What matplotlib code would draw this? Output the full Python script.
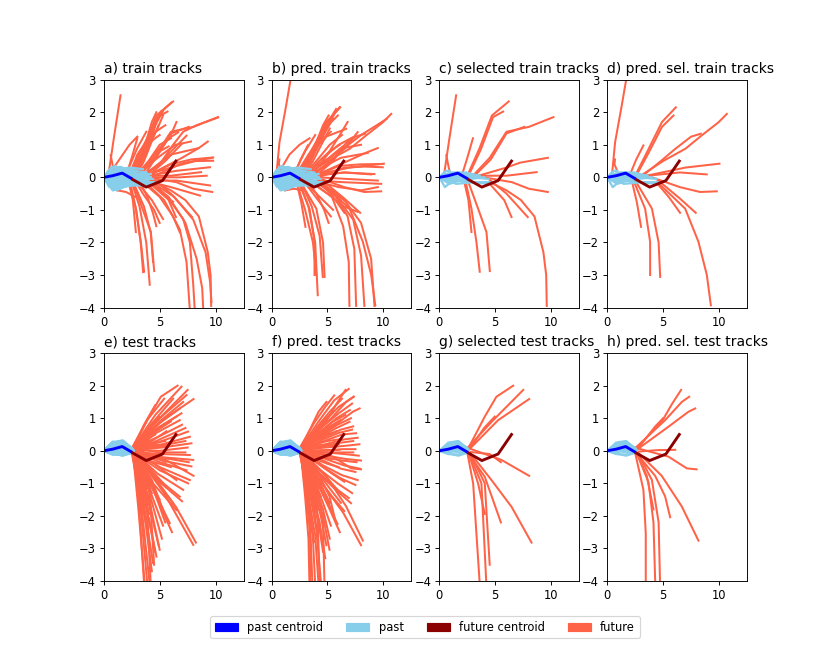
import matplotlib
matplotlib.use("Agg")
import matplotlib.pyplot as plt
import matplotlib.patches as mpatches

# centroids, same in every panel
past_centroid = [(0.0, 0.0), (0.8, 0.05), (1.65, 0.13), (2.45, -0.03)]
future_centroid = [(2.6, -0.07), (3.8, -0.3), (5.25, -0.1), (6.45, 0.5)]

# train tracks: observed past, true future, predicted future (future starts at end of past)
train_past = [
    [(0, 0), (0.2, 0.05), (0.45, 0.15)],
    [(0, 0), (0.6, 0.1), (1.3, 0.05), (2.0, 0.05)],
    [(0, 0), (0.8, 0.12), (1.7, 0.1), (2.5, 0.05)],
    [(0, 0), (0.9, 0.05), (1.8, 0.0), (2.6, 0.05)],
    [(0, 0), (1.0, 0.15), (2.0, 0.15), (3.0, 0.05)],
    [(0, 0), (1.0, -0.05), (2.0, -0.1), (3.0, 0.0)],
    [(0, 0), (1.2, 0.1), (2.4, 0.15), (3.5, 0.05)],
    [(0, 0), (1.2, 0.0), (2.4, 0.05), (3.6, 0.05)],
    [(0, 0), (1.3, -0.1), (2.7, -0.05), (4.0, 0.0)],
    [(0, 0), (1.5, 0.05), (3.0, 0.0), (4.4, -0.05)],
    [(0, 0), (1.5, -0.1), (3.0, -0.15), (4.5, -0.2)],
    [(0, 0), (1.5, -0.2), (3.0, -0.15), (4.5, -0.15)],
    [(0, 0), (0.5, -0.3), (1.2, -0.1), (2.3, -0.05)],
    [(0, 0), (0.9, -0.2), (1.8, -0.1), (2.6, -0.15)],
    [(0, 0), (0.7, -0.15), (1.5, -0.05), (2.2, -0.1)],
    [(0, 0), (0.3, 0.1), (0.6, 0.2), (0.9, 0.2)],
    [(0, 0), (0.9, 0.2), (1.8, 0.2), (2.6, 0.1)],
    [(0, 0), (0.8, 0.3), (1.6, 0.25), (2.5, 0.15)],
    [(0, 0), (0.9, 0.1), (1.9, 0.05), (2.8, 0.0)],
    [(0, 0), (0.7, 0.3), (1.5, 0.32), (2.4, 0.2)],
    [(0, 0), (1.1, 0.1), (2.3, 0.05), (3.4, 0.0)],
    [(0, 0), (1.2, 0.15), (2.4, 0.1), (3.6, 0.05)],
    [(0, 0), (1.0, 0.2), (2.1, 0.15), (3.2, 0.1)],
    [(0, 0), (1.3, 0.1), (2.6, 0.05), (3.8, 0.0)],
    [(0, 0), (1.3, 0.05), (2.7, 0.1), (4.0, 0.05)],
    [(0, 0), (1.4, 0.0), (2.8, 0.05), (4.2, 0.0)],
    [(0, 0), (1.3, -0.05), (2.7, 0.0), (4.0, 0.05)],
    [(0, 0), (1.4, -0.1), (2.8, -0.05), (4.2, 0.0)],
    [(0, 0), (1.3, -0.15), (2.7, -0.1), (4.0, -0.1)],
    [(0, 0), (1.2, -0.1), (2.5, -0.1), (3.7, -0.1)],
    [(0, 0), (1.4, -0.2), (2.9, -0.15), (4.3, -0.15)],
    [(0, 0), (1.4, -0.25), (2.8, -0.2), (4.2, -0.2)],
    [(0, 0), (1.3, -0.3), (2.7, -0.25), (4.0, -0.25)],
    [(0, 0), (1.5, -0.15), (3.0, -0.1), (4.5, -0.2)],
    [(0, 0), (0.8, -0.3), (1.7, -0.25), (2.5, -0.15)],
    [(0, 0), (0.9, -0.35), (1.8, -0.3), (2.7, -0.2)],
    [(0, 0), (0.8, -0.4), (1.5, -0.35), (2.3, -0.2)],
    [(0, 0), (1.0, -0.3), (2.0, -0.25), (3.0, -0.15)],
    [(0, 0), (1.1, -0.2), (2.2, -0.15), (3.3, -0.1)],
    [(0, 0), (0.4, 0.2), (0.7, 0.3), (1.0, 0.35)],
    [(0, 0), (0.4, -0.2), (0.8, -0.35), (1.2, -0.4)],
    [(0, 0), (1.0, 0.2), (2.0, 0.25), (3.0, 0.2)],
    [(0, 0), (0.7, 0.15), (1.3, 0.15), (2.0, 0.1)],
    [(0, 0), (1.2, 0.25), (2.4, 0.3), (3.5, 0.25)],
    [(0, 0), (1.0, 0.1), (2.0, 0.15), (3.0, 0.1)],
    [(0, 0), (1.1, 0.0), (2.3, 0.05), (3.4, 0.05)],
    [(0, 0), (0.9, -0.15), (1.9, -0.15), (2.8, -0.1)],
    [(0, 0), (1.4, 0.05), (2.8, 0.1), (4.2, 0.1)],
    [(0, 0), (0.9, 0.1), (1.8, 0.15), (2.7, 0.1)],
    [(0, 0), (1.0, 0.05), (2.0, 0.0), (2.9, 0.05)],
    [(0, 0), (0.8, 0.2), (1.7, 0.2), (2.5, 0.2)],
    [(0, 0), (1.1, 0.1), (2.1, 0.1), (3.1, 0.05)],
    [(0, 0), (1.2, 0.05), (2.4, 0.0), (3.3, -0.05)],
    [(0, 0), (1.0, -0.1), (2.0, -0.1), (3.1, -0.05)],
    [(0, 0), (1.3, 0.15), (2.6, 0.2), (3.8, 0.15)],
    [(0, 0), (0.9, 0.15), (1.9, 0.2), (2.9, 0.15)],
]

train_future = [
    [(0.9, 1.2), (1.5, 2.52)],
    [(2.5, 0.6), (3.0, 1.2)],
    [(3.6, 0.9), (4.7, 1.9), (6.2, 2.33)],
    [(3.7, 0.85), (4.8, 1.85), (5.7, 2.02)],
    [(4.5, 0.6), (6.0, 1.4), (8.0, 1.55), (10.2, 1.85)],
    [(4.6, 0.55), (6.0, 1.35), (7.6, 1.55)],
    [(6.0, 0.3), (7.2, 0.45), (9.7, 0.6)],
    [(6.0, 0.05), (8.7, 0.16)],
    [(6.5, -0.15), (8.0, -0.35), (9.7, -0.45)],
    [(6.0, -0.5), (7.9, -1.22)],
    [(5.8, -0.7), (6.45, -1.22)],
    [(6.0, -0.4), (7.3, -0.7), (8.5, -1.2), (9.3, -2.3), (9.55, -3.0), (9.6, -3.95)],
    [(2.87, -0.96), (3.31, -1.98), (3.61, -2.9)],
    [(3.46, -0.96), (4.21, -1.68), (4.51, -2.88)],
    [(2.6, -0.7), (2.87, -1.68)],
    [(0.75, 0.45), (0.62, 0.68)],
    [(3.5, 0.8), (4.6, 1.6), (5.4, 2.1), (6.05, 2.3)],
    [(3.3, 0.8), (4.3, 1.5), (5.16, 2.04)],
    [(3.8, 0.7), (4.7, 1.69)],
    [(3.2, 0.8), (4.2, 1.3), (5.5, 1.6)],
    [(5.0, 0.4), (6.2, 1.0), (7.1, 1.4), (8.3, 1.6), (10.23, 1.84)],
    [(5.2, 0.5), (6.6, 1.0), (7.4, 1.28)],
    [(4.5, 0.7), (5.8, 1.2), (6.65, 1.38)],
    [(5.5, 0.5), (6.95, 1.02)],
    [(6.0, 0.4), (7.8, 0.55), (9.78, 0.61)],
    [(6.5, 0.35), (8.2, 0.5), (9.78, 0.51)],
    [(6.5, 0.2), (9.5, 0.31)],
    [(6.8, 0.0), (9.2, 0.05)],
    [(6.5, -0.1), (9.5, -0.25)],
    [(6.0, -0.3), (7.5, -0.45), (8.6, -0.56)],
    [(5.6, -0.56), (7.1, -1.28), (7.7, -2.0), (8.0, -3.3), (8.14, -4.1)],
    [(5.8, -0.6), (7.3, -1.4), (8.3, -2.5), (8.8, -3.4), (8.9, -4.1)],
    [(5.4, -0.7), (6.8, -1.6), (7.4, -2.6), (7.7, -4.1)],
    [(6.3, -0.6), (8.0, -1.3), (9.1, -2.3), (9.5, -3.2), (9.63, -3.83)],
    [(3.2, -0.9), (3.8, -2.0), (4.11, -3.3)],
    [(3.6, -0.9), (4.2, -1.7), (4.41, -2.6)],
    [(2.9, -1.0), (3.3, -2.0), (3.52, -2.91)],
    [(4.3, -0.7), (5.3, -1.28)],
    [(5.0, -0.6), (6.2, -1.2), (6.8, -1.69)],
    [(1.5, 0.6), (2.3, 1.0), (3.0, 1.25)],
    [(2.0, -0.45), (2.8, -0.6)],
    [(4.0, 1.0), (4.8, 1.5), (5.3, 1.9)],
    [(3.0, 0.9), (3.8, 1.4)],
    [(5.2, 0.7), (6.4, 1.0), (7.8, 1.1)],
    [(4.0, 0.5), (5.0, 1.0), (6.0, 1.2)],
    [(4.5, 0.3), (6.0, 0.7), (8.5, 0.9)],
    [(3.5, -0.5), (4.5, -1.0), (5.0, -1.4)],
    [(7.0, 0.6), (8.5, 0.9), (9.3, 1.1)],
    [(3.4, 0.6), (4.2, 1.1), (5.0, 1.3)],
    [(3.6, 0.5), (4.4, 1.2), (4.9, 1.6)],
    [(3.0, 0.7), (3.7, 1.0), (4.4, 1.15)],
    [(4.0, 0.4), (5.0, 0.8), (5.8, 0.95)],
    [(4.5, -0.3), (5.5, -0.6), (6.2, -0.75)],
    [(3.9, -0.6), (4.4, -1.1), (4.7, -1.5)],
    [(5.0, 0.8), (6.0, 1.3), (6.5, 1.7)],
    [(3.7, 1.0), (4.3, 1.7), (4.7, 2.0)],
]

pred_train_future = [
    [(0.71, 1.08), (1.3, 2.2), (1.8, 3.2)],
    [(2.6, 0.55), (3.24, 0.98)],
    [(3.6, 0.8), (4.9, 1.7), (6.14, 2.15)],
    [(3.7, 0.75), (4.9, 1.55), (5.93, 1.9)],
    [(5.0, 0.5), (7.0, 0.88), (8.46, 1.29), (9.95, 1.69), (10.7, 1.95)],
    [(4.8, 0.5), (6.0, 0.85), (7.5, 1.25), (8.37, 1.34)],
    [(7.0, 0.3), (10.04, 0.42)],
    [(6.5, 0.15), (8.9, 0.09)],
    [(6.5, -0.3), (8.3, -0.45), (9.8, -0.43)],
    [(6.5, -0.65), (7.92, -1.09)],
    [(5.5, -0.6), (6.52, -1.09)],
    [(6.97, -0.96), (8.16, -1.98), (8.91, -3.0), (9.27, -3.93)],
    [(3.39, -0.96), (3.84, -1.98), (3.84, -3.0)],
    [(4.0, -0.96), (4.6, -2.0), (4.74, -3.06)],
    [(2.65, -0.76), (3.03, -1.52)],
    [(0.65, 0.4), (0.7, 0.55)],
    [(3.6, 0.8), (4.8, 1.6), (6.07, 2.15)],
    [(3.5, 0.8), (4.7, 1.5), (5.77, 2.1)],
    [(3.8, 0.7), (4.8, 1.4), (5.62, 1.95)],
    [(3.3, 0.7), (4.5, 1.2), (6.67, 1.49)],
    [(5.0, 0.4), (6.5, 0.9), (8.0, 1.3), (9.4, 1.6), (10.3, 1.8)],
    [(5.2, 0.5), (6.6, 0.9), (7.7, 1.39)],
    [(4.6, 0.6), (6.0, 1.0), (7.26, 1.23)],
    [(5.5, 0.5), (6.82, 1.13)],
    [(6.0, 0.35), (8.0, 0.4), (9.94, 0.41)],
    [(6.5, 0.3), (8.3, 0.33), (9.94, 0.31)],
    [(6.5, 0.15), (9.2, 0.1)],
    [(6.8, -0.05), (9.5, -0.1)],
    [(6.5, -0.15), (9.8, -0.2)],
    [(6.0, -0.3), (8.0, -0.4), (9.5, -0.3)],
    [(5.6, -0.5), (6.8, -1.2), (7.4, -2.2), (7.56, -3.95)],
    [(5.8, -0.6), (7.3, -1.3), (8.0, -2.4), (8.3, -3.95)],
    [(5.4, -0.6), (6.4, -1.5), (6.9, -2.6), (6.96, -3.95)],
    [(6.3, -0.6), (8.0, -1.4), (8.9, -2.5), (9.2, -3.95)],
    [(3.3, -0.9), (3.9, -2.0), (4.13, -3.62)],
    [(3.6, -0.9), (4.3, -1.8), (4.58, -3.06)],
    [(3.0, -1.0), (3.7, -2.0), (4.0, -3.0)],
    [(4.3, -0.6), (5.5, -1.0)],
    [(5.0, -0.5), (6.5, -0.9), (7.7, -1.06)],
    [(1.6, 0.7), (2.5, 1.0), (3.4, 1.2)],
    [(2.0, -0.35), (2.8, -0.4)],
    [(4.0, 0.9), (4.8, 1.4), (5.5, 1.8)],
    [(3.0, 0.8), (3.9, 1.3)],
    [(5.2, 0.6), (6.4, 0.9), (8.0, 1.0)],
    [(4.0, 0.5), (5.2, 1.0), (6.3, 1.3)],
    [(4.5, 0.3), (6.2, 0.6), (8.6, 0.75)],
    [(3.5, -0.4), (4.6, -0.9), (5.3, -1.2)],
    [(6.8, 0.5), (8.4, 0.75), (9.5, 0.9)],
    [(3.5, 0.6), (4.4, 1.1), (5.3, 1.4)],
    [(3.7, 0.5), (4.6, 1.1), (5.2, 1.5)],
    [(3.2, 0.6), (4.0, 0.95), (4.8, 1.2)],
    [(4.1, 0.45), (5.2, 0.8), (6.1, 1.0)],
    [(4.5, -0.25), (5.6, -0.5), (6.5, -0.7)],
    [(4.0, -0.5), (4.7, -1.0), (5.1, -1.4)],
    [(5.0, 0.7), (6.1, 1.3), (6.8, 1.7)],
    [(3.8, 0.9), (4.6, 1.6), (5.1, 1.9)],
]

sel_train = [0, 1, 2, 3, 4, 5, 6, 7, 8, 9, 10, 11, 12, 13, 14, 15]

# test tracks
test_past = [
    [(0, 0), (0.8, 0.10), (1.7, 0.15), (2.55, 0.05)],
    [(0, 0), (0.8, 0.15), (1.7, 0.22), (2.50, 0.08)],
    [(0, 0), (0.8, 0.05), (1.7, 0.10), (2.60, 0.02)],
    [(0, 0), (0.8, -0.05), (1.7, 0.02), (2.55, -0.02)],
    [(0, 0), (0.8, 0.20), (1.7, 0.28), (2.45, 0.10)],
    [(0, 0), (0.8, 0.00), (1.7, 0.12), (2.60, 0.00)],
    [(0, 0), (0.8, -0.10), (1.7, -0.12), (2.55, -0.05)],
    [(0, 0), (0.8, 0.12), (1.7, 0.25), (2.50, 0.06)],
    [(0, 0), (0.8, 0.08), (1.7, 0.05), (2.65, 0.00)],
    [(0, 0), (0.8, -0.08), (1.7, -0.15), (2.50, -0.06)],
    [(0, 0), (0.8, 0.25), (1.7, 0.30), (2.50, 0.05)],
    [(0, 0), (0.8, 0.02), (1.7, -0.05), (2.58, -0.03)],
    [(0, 0), (0.8, 0.18), (1.7, 0.20), (2.52, 0.04)],
    [(0, 0), (0.8, 0.06), (1.7, 0.18), (2.56, 0.03)],
    [(0, 0), (0.8, -0.03), (1.7, 0.08), (2.62, 0.01)],
    [(0, 0), (0.8, 0.22), (1.7, 0.25), (2.48, 0.07)],
    [(0, 0), (0.8, 0.10), (1.7, 0.02), (2.60, -0.02)],
    [(0, 0), (0.8, -0.12), (1.7, -0.08), (2.52, -0.04)],
    [(0, 0), (0.8, 0.14), (1.7, 0.12), (2.55, 0.02)],
    [(0, 0), (0.8, 0.28), (1.7, 0.22), (2.45, 0.06)],
    [(0, 0), (0.8, 0.04), (1.7, 0.00), (2.63, -0.01)],
    [(0, 0), (0.8, -0.06), (1.7, -0.10), (2.57, -0.05)],
    [(0, 0), (0.8, 0.16), (1.7, 0.27), (2.50, 0.09)],
    [(0, 0), (0.8, 0.09), (1.7, 0.08), (2.58, 0.03)],
    [(0, 0), (0.8, -0.02), (1.7, 0.15), (2.54, 0.02)],
    [(0, 0), (0.8, 0.20), (1.7, 0.15), (2.52, 0.03)],
    [(0, 0), (0.8, 0.00), (1.7, -0.08), (2.60, -0.04)],
    [(0, 0), (0.8, 0.13), (1.7, 0.30), (2.47, 0.08)],
    [(0, 0), (0.8, 0.07), (1.7, 0.13), (2.61, 0.01)],
    [(0, 0), (0.8, -0.10), (1.7, -0.05), (2.55, -0.03)],
    [(0, 0), (0.8, 0.24), (1.7, 0.18), (2.50, 0.04)],
    [(0, 0), (0.8, 0.03), (1.7, 0.06), (2.64, 0.00)],
    [(0, 0), (0.8, 0.11), (1.7, 0.22), (2.53, 0.05)],
    [(0, 0), (0.8, -0.07), (1.7, 0.04), (2.58, -0.02)],
    [(0, 0), (0.8, 0.17), (1.7, 0.10), (2.56, 0.02)],
    [(0, 0), (0.8, 0.26), (1.7, 0.32), (2.46, 0.09)],
    [(0, 0), (0.8, 0.01), (1.7, -0.12), (2.57, -0.06)],
    [(0, 0), (0.8, 0.08), (1.7, 0.18), (2.59, 0.04)],
    [(0, 0), (0.8, -0.04), (1.7, -0.02), (2.62, -0.03)],
    [(0, 0), (0.8, 0.19), (1.7, 0.26), (2.49, 0.07)],
    [(0, 0), (0.8, 0.12), (1.7, 0.06), (2.60, 0.00)],
    [(0, 0), (0.8, -0.09), (1.7, -0.14), (2.53, -0.05)],
    [(0, 0), (0.8, 0.15), (1.7, 0.16), (2.55, 0.03)],
    [(0, 0), (0.8, 0.05), (1.7, 0.20), (2.52, 0.05)],
    [(0, 0), (0.8, 0.22), (1.7, 0.12), (2.54, 0.02)],
    [(0, 0), (0.8, -0.01), (1.7, 0.03), (2.61, -0.01)],
    [(0, 0), (0.8, 0.09), (1.7, 0.28), (2.48, 0.08)],
    [(0, 0), (0.8, 0.14), (1.7, 0.09), (2.57, 0.02)],
    [(0, 0), (0.8, -0.06), (1.7, -0.09), (2.56, -0.04)],
    [(0, 0), (0.8, 0.21), (1.7, 0.24), (2.50, 0.06)],
    [(0, 0), (0.8, 0.03), (1.7, 0.14), (2.59, 0.02)],
    [(0, 0), (0.8, 0.11), (1.7, -0.03), (2.60, -0.02)],
    [(0, 0), (0.8, -0.11), (1.7, -0.13), (2.54, -0.05)],
    [(0, 0), (0.8, 0.18), (1.7, 0.29), (2.47, 0.09)],
    [(0, 0), (0.8, 0.06), (1.7, 0.07), (2.62, 0.01)],
    [(0, 0), (0.8, 0.27), (1.7, 0.26), (2.48, 0.06)],
    [(0, 0), (0.8, 0.00), (1.7, 0.10), (2.58, 0.02)],
    [(0, 0), (0.8, 0.13), (1.7, 0.19), (2.53, 0.04)],
    [(0, 0), (0.8, -0.05), (1.7, -0.06), (2.59, -0.03)],
    [(0, 0), (0.8, 0.16), (1.7, 0.05), (2.57, 0.00)],
    [(0, 0), (0.8, 0.10), (1.7, 0.20), (2.55, 0.04)],
    [(0, 0), (0.8, 0.05), (1.7, 0.12), (2.57, 0.02)],
    [(0, 0), (0.8, -0.04), (1.7, 0.03), (2.60, -0.01)],
    [(0, 0), (0.8, 0.17), (1.7, 0.22), (2.52, 0.05)],
    [(0, 0), (0.8, 0.08), (1.7, 0.10), (2.58, 0.02)],
    [(0, 0), (0.8, 0.12), (1.7, 0.16), (2.54, 0.04)],
    [(0, 0), (0.8, -0.07), (1.7, -0.08), (2.56, -0.04)],
    [(0, 0), (0.8, 0.20), (1.7, 0.18), (2.51, 0.05)],
    [(0, 0), (0.8, 0.03), (1.7, 0.05), (2.60, 0.00)],
    [(0, 0), (0.8, 0.15), (1.7, 0.25), (2.49, 0.07)],
    [(0, 0), (0.8, 0.00), (1.7, -0.04), (2.59, -0.03)],
    [(0, 0), (0.8, 0.24), (1.7, 0.27), (2.48, 0.08)],
    [(0, 0), (0.8, 0.06), (1.7, 0.09), (2.61, 0.01)],
    [(0, 0), (0.8, 0.11), (1.7, 0.14), (2.55, 0.03)],
    [(0, 0), (0.8, -0.02), (1.7, 0.06), (2.58, 0.00)],
]

test_future = [
    [(4.06, 1.05), (5.1, 1.66), (6.6, 2.0)],
    [(4.7, 0.9), (7.5, 1.87)],
    [(5.25, 0.94), (8.03, 1.59)],
    [(4.0, 0.7), (4.95, 1.05)],
    [(5.55, -0.28), (8.03, -0.77)],
    [(4.66, -0.9), (6.45, -1.72), (8.24, -2.82)],
    [(4.06, -0.8), (5.5, -2.2)],
    [(3.46, -1.0), (4.06, -1.94)],
    [(4.06, -1.0), (4.5, -3.5)],
    [(3.02, -1.0), (3.61, -4.1)],
    [(3.76, -1.0), (4.2, -4.1)],
    [(4.5, -0.1), (5.5, -0.35)],
    [(4.6, 1.1), (6.95, 1.97)],
    [(5.0, 1.0), (7.4, 1.71)],
    [(5.0, 0.9), (7.1, 1.5)],
    [(4.8, 0.8), (6.8, 1.3)],
    [(4.8, 0.7), (6.95, 1.15)],
    [(4.7, 0.55), (6.8, 0.94)],
    [(4.4, 0.6), (6.5, 1.05)],
    [(5.0, 0.45), (7.0, 0.8)],
    [(5.2, 0.3), (7.54, 0.59)],
    [(5.0, 0.35), (7.3, 0.7)],
    [(5.2, 0.2), (7.7, 0.43)],
    [(5.0, 0.15), (7.3, 0.3)],
    [(5.2, 0.1), (7.84, 0.23)],
    [(5.0, 0.0), (7.5, 0.1)],
    [(5.0, -0.1), (7.7, -0.13)],
    [(5.0, -0.05), (7.3, -0.05)],
    [(5.3, -0.2), (8.0, -0.28)],
    [(5.0, -0.2), (7.6, -0.35)],
    [(5.2, -0.3), (7.84, -0.48)],
    [(5.0, -0.35), (7.4, -0.6)],
    [(5.0, -0.5), (7.7, -0.9)],
    [(5.0, -0.6), (7.54, -1.0)],
    [(4.8, -0.7), (7.1, -1.2)],
    [(4.6, -0.8), (6.8, -1.41)],
    [(4.8, -0.9), (7.0, -1.55)],
    [(4.4, -1.0), (6.5, -1.82)],
    [(4.5, -0.8), (6.2, -1.61)],
    [(5.4, -1.3), (8.0, -2.89)],
    [(4.3, -1.1), (5.9, -2.22)],
    [(4.4, -1.2), (6.1, -2.5)],
    [(4.0, -1.1), (5.3, -2.3)],
    [(4.0, -1.4), (5.0, -3.04)],
    [(4.0, -1.2), (5.2, -2.7)],
    [(3.7, -1.5), (4.71, -3.25)],
    [(3.8, -1.3), (4.9, -2.9)],
    [(3.5, -1.5), (4.41, -3.45)],
    [(3.6, -1.4), (4.6, -3.1)],
    [(3.4, -1.8), (4.11, -4.1)],
    [(3.1, -1.8), (3.67, -4.1)],
    [(3.3, -1.8), (3.9, -4.1)],
    [(3.5, -1.6), (4.3, -3.7)],
    [(4.3, -0.9), (5.5, -2.0)],
    [(3.4, -1.2), (4.0, -2.6)],
    [(3.1, -0.9), (3.5, -1.9)],
    [(4.3, 0.3), (5.6, 0.6)],
    [(4.0, -0.3), (6.0, -0.5)],
    [(4.2, 0.8), (6.2, 1.6)],
    [(4.5, -0.4), (6.5, -0.9)],
    [(3.8, 0.4), (5.2, 0.75)],
    [(3.7, 0.2), (5.5, 0.3)],
    [(3.6, -0.15), (5.0, -0.25)],
    [(3.7, 0.55), (5.3, 1.1)],
    [(3.5, -0.4), (4.8, -0.9)],
    [(3.6, 0.8), (4.6, 1.4)],
    [(3.4, -0.6), (4.3, -1.3)],
    [(3.9, 0.1), (5.8, 0.15)],
    [(3.7, -0.7), (5.0, -1.5)],
    [(3.9, 0.95), (5.4, 1.6)],
    [(3.3, -0.8), (4.0, -1.6)],
    [(4.2, 0.5), (6.0, 0.9)],
    [(4.0, -0.5), (5.6, -1.1)],
    [(3.6, 0.3), (4.6, 0.5)],
    [(3.2, -1.2), (3.8, -2.3)],
]

pred_test_future = [
    [(4.96, 0.94), (5.78, 1.43), (6.61, 1.87)],
    [(5.18, 0.94), (6.67, 1.5), (7.33, 1.66)],
    [(5.48, 0.74), (7.27, 1.2), (7.87, 1.3)],
    [(4.3, 0.75), (5.0, 1.0)],
    [(5.48, -0.18), (7.12, -0.54), (8.0, -0.57)],
    [(4.88, -0.77), (6.67, -1.71), (8.16, -2.76)],
    [(4.29, -0.77), (5.18, -1.4), (5.63, -2.04)],
    [(3.54, -0.77), (4.14, -1.8)],
    [(4.0, -0.9), (4.6, -2.2), (4.73, -4.1)],
    [(3.24, -1.2), (3.45, -2.53), (3.45, -4.1)],
    [(3.69, -0.96), (4.14, -2.2), (4.3, -4.1)],
    [(4.5, 0.02), (6.08, 0.03)],
    [(4.2, 0.9), (5.6, 1.55), (6.9, 1.9)],
    [(4.4, 0.8), (6.0, 1.35), (7.35, 1.66)],
    [(4.4, 0.7), (6.0, 1.15), (7.2, 1.45)],
    [(4.4, 0.6), (5.8, 1.0), (7.0, 1.25)],
    [(4.5, 0.5), (5.9, 0.8), (7.1, 1.0)],
    [(4.5, 0.45), (5.8, 0.7), (6.97, 0.89)],
    [(4.2, 0.55), (5.5, 0.9), (6.6, 1.1)],
    [(4.6, 0.4), (6.2, 0.65), (7.3, 0.75)],
    [(4.7, 0.3), (6.3, 0.5), (7.56, 0.54)],
    [(4.6, 0.35), (6.0, 0.55), (7.2, 0.65)],
    [(4.8, 0.2), (6.5, 0.35), (7.7, 0.4)],
    [(4.6, 0.15), (6.2, 0.25), (7.3, 0.3)],
    [(4.8, 0.1), (6.5, 0.15), (7.85, 0.2)],
    [(4.7, 0.0), (6.3, 0.05), (7.5, 0.05)],
    [(4.8, -0.05), (6.5, -0.1), (7.8, -0.15)],
    [(4.6, -0.05), (6.1, -0.05), (7.3, -0.05)],
    [(4.9, -0.15), (6.6, -0.25), (8.0, -0.3)],
    [(4.7, -0.2), (6.3, -0.3), (7.6, -0.35)],
    [(4.8, -0.25), (6.5, -0.45), (7.9, -0.55)],
    [(4.6, -0.3), (6.2, -0.55), (7.5, -0.65)],
    [(4.6, -0.45), (6.3, -0.75), (7.7, -0.9)],
    [(4.6, -0.5), (6.2, -0.85), (7.5, -1.05)],
    [(4.4, -0.6), (5.9, -1.0), (7.2, -1.3)],
    [(4.3, -0.7), (5.7, -1.15), (6.9, -1.45)],
    [(4.4, -0.75), (5.9, -1.25), (7.1, -1.61)],
    [(4.1, -0.8), (5.4, -1.4), (6.5, -1.85)],
    [(4.2, -0.7), (5.3, -1.2), (6.2, -1.6)],
    [(4.5, -1.0), (6.4, -1.9), (8.0, -2.9)],
    [(4.0, -0.9), (5.0, -1.6), (5.9, -2.25)],
    [(4.1, -1.0), (5.2, -1.8), (6.1, -2.5)],
    [(3.8, -0.9), (4.6, -1.6), (5.3, -2.3)],
    [(3.8, -1.1), (4.6, -2.0), (5.18, -3.04)],
    [(3.8, -1.0), (4.6, -1.8), (5.2, -2.7)],
    [(3.6, -1.2), (4.3, -2.2), (4.8, -3.3)],
    [(3.7, -1.1), (4.4, -2.0), (4.9, -2.9)],
    [(3.4, -1.3), (4.0, -2.4), (4.43, -4.1)],
    [(3.5, -1.2), (4.2, -2.2), (4.6, -3.1)],
    [(3.2, -1.4), (3.7, -2.7), (3.9, -4.1)],
    [(3.0, -1.4), (3.3, -2.7), (3.39, -4.1)],
    [(3.1, -1.4), (3.5, -2.7), (3.65, -4.1)],
    [(3.3, -1.4), (3.9, -2.6), (4.2, -4.1)],
    [(4.0, -0.8), (4.9, -1.4), (5.5, -2.0)],
    [(3.3, -1.0), (3.8, -1.8), (4.1, -2.6)],
    [(3.0, -0.8), (3.3, -1.4), (3.5, -2.0)],
    [(4.0, 0.3), (5.0, 0.5), (5.8, 0.6)],
    [(3.9, -0.25), (5.0, -0.4), (6.0, -0.5)],
    [(4.0, 0.7), (5.2, 1.2), (6.3, 1.6)],
    [(4.2, -0.4), (5.4, -0.7), (6.5, -0.95)],
    [(3.7, 0.35), (4.8, 0.6), (5.6, 0.8)],
    [(3.8, 0.2), (5.0, 0.3), (6.0, 0.35)],
    [(3.6, -0.12), (4.5, -0.2), (5.3, -0.25)],
    [(3.6, 0.5), (4.5, 0.9), (5.4, 1.15)],
    [(3.5, -0.35), (4.3, -0.7), (5.0, -0.95)],
    [(3.5, 0.7), (4.2, 1.2), (4.9, 1.5)],
    [(3.3, -0.55), (3.9, -1.0), (4.4, -1.4)],
    [(3.9, 0.1), (5.0, 0.15), (6.0, 0.2)],
    [(3.6, -0.6), (4.5, -1.1), (5.2, -1.6)],
    [(3.8, 0.85), (4.8, 1.35), (5.6, 1.7)],
    [(3.3, -0.7), (3.8, -1.3), (4.2, -1.8)],
    [(4.0, 0.45), (5.2, 0.75), (6.2, 0.95)],
    [(3.9, -0.45), (5.0, -0.85), (5.9, -1.2)],
    [(3.5, 0.25), (4.3, 0.45), (5.0, 0.6)],
    [(3.1, -1.1), (3.5, -2.0), (3.8, -2.8)],
]

sel_test = [0, 1, 2, 3, 4, 5, 6, 7, 8, 9, 10, 11]

all_train = list(range(len(train_past)))
all_test = list(range(len(test_past)))

panels = [
    ("a) train tracks", train_past, train_future, all_train),
    ("b) pred. train tracks", train_past, pred_train_future, all_train),
    ("c) selected train tracks", train_past, train_future, sel_train),
    ("d) pred. sel. train tracks", train_past, pred_train_future, sel_train),
    ("e) test tracks", test_past, test_future, all_test),
    ("f) pred. test tracks", test_past, pred_test_future, all_test),
    ("g) selected test tracks", test_past, test_future, sel_test),
    ("h) pred. sel. test tracks", test_past, pred_test_future, sel_test),
]


def draw_tracks(ax, past, future, idx):
    for i in idx:
        pts = [past[i][-1]] + future[i]
        ax.plot([p[0] for p in pts], [p[1] for p in pts], color='tomato', lw=1.75)
    for i in idx:
        ax.plot([p[0] for p in past[i]], [p[1] for p in past[i]], color='skyblue', lw=2)
    ax.plot([p[0] for p in past_centroid], [p[1] for p in past_centroid], color='blue', lw=2.5)
    ax.plot([p[0] for p in future_centroid], [p[1] for p in future_centroid], color='darkred', lw=2.5)


fig, axes = plt.subplots(2, 4, figsize=(10, 8), dpi=83)
plt.subplots_adjust(bottom=0.125)

for ax, (title, past, future, idx) in zip(axes.flat, panels):
    draw_tracks(ax, past, future, idx)
    ax.set_xlim(0, 12.5)
    ax.set_ylim(-4, 3)
    ax.set_title(title, loc='left')

handles = [
    mpatches.Patch(color='blue', label='past centroid'),
    mpatches.Patch(color='skyblue', label='past'),
    mpatches.Patch(color='darkred', label='future centroid'),
    mpatches.Patch(color='tomato', label='future'),
]
fig.legend(handles=handles, loc='lower center', ncol=4, bbox_to_anchor=(0.512, 0.03))

plt.savefig('out.png', dpi=83)
